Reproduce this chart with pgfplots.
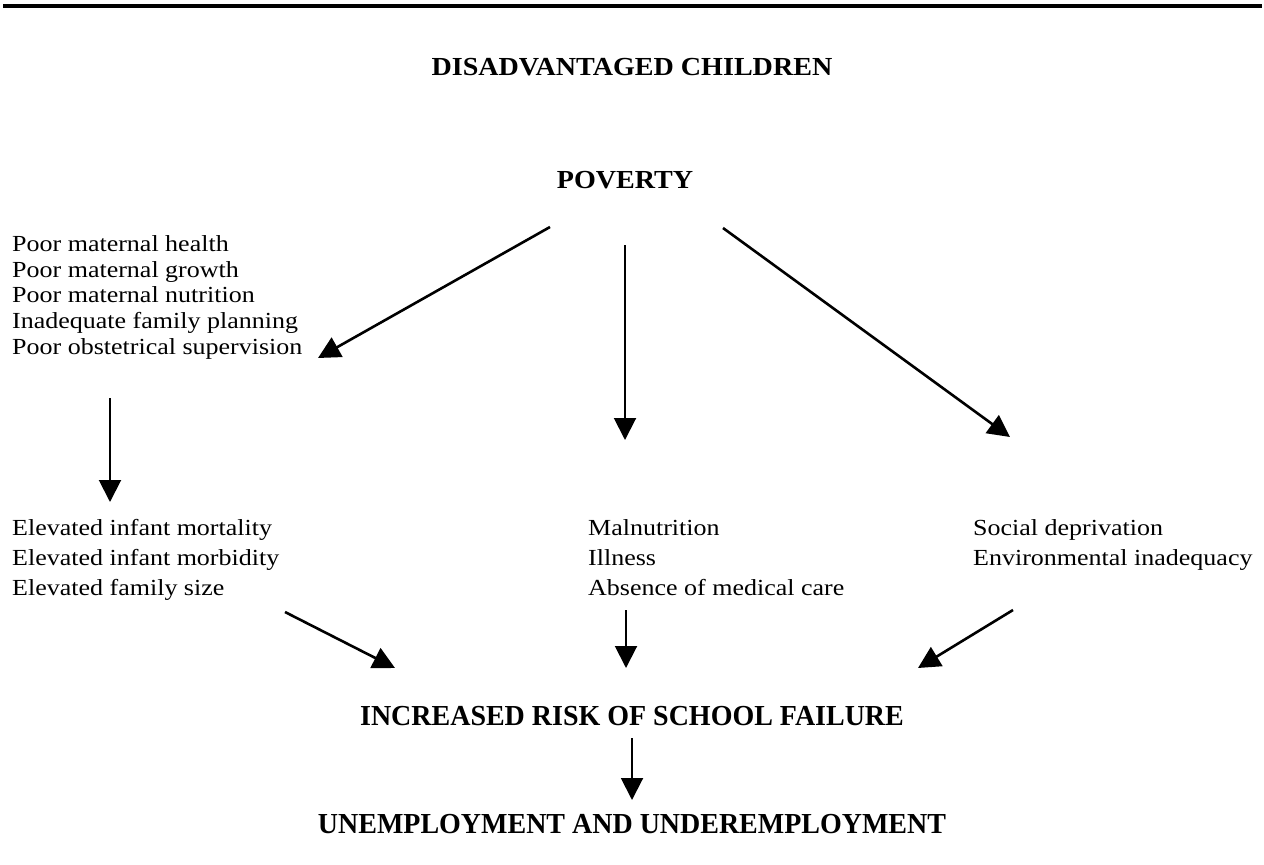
\documentclass[border=0pt]{standalone}
\usepackage{pgfplots}
\pgfplotsset{compat=1.18}
\usepackage{fontspec}
\setmainfont{Liberation Serif}
\usetikzlibrary{arrows.meta}
\newcommand{\bodyf}{\fontsize{23bp}{26bp}\selectfont}
\newcommand{\headf}{\fontsize{26bp}{30bp}\selectfont\bfseries}
\newcommand{\headb}{\fontsize{29bp}{32bp}\selectfont\bfseries}
\newcommand{\bt}[1]{\scalebox{1.13}[1]{\bodyf #1}}
\newcommand{\hdt}[1]{\scalebox{1.08}[1]{\headf #1}}
\newcommand{\hdb}[1]{\scalebox{0.965}[1]{\headb #1}}
\begin{document}
\begin{tikzpicture}
\begin{axis}[
  width=1264bp, height=865bp, scale only axis,
  xmin=0, xmax=1264, ymin=0, ymax=865, y dir=reverse,
  hide axis, clip=false,
  arr/.style={black, line width=2.6bp, -{Triangle[length=22bp, width=22bp]}},
  varr/.style={black, line width=2bp, -{Triangle[length=22bp, width=22bp]}},
]
% invisible frame so the picture spans the whole canvas
\addplot[draw=none, forget plot] coordinates {(0,0) (1264,865)};
% top rule
\addplot[black, line width=3.5bp] coordinates {(3,6) (1262,6)};
% arrows from POVERTY
\addplot[arr] coordinates {(550,227) (318,358)};
\addplot[varr] coordinates {(625,245) (625,440)};
\addplot[arr] coordinates {(723,228) (1010,437)};
% left down arrow
\addplot[varr] coordinates {(110,398) (110,502)};
% arrows into school failure
\addplot[arr] coordinates {(285,612) (395,668)};
\addplot[varr] coordinates {(626,610) (626,668)};
\addplot[arr] coordinates {(1013,610) (918,668)};
% to unemployment
\addplot[varr] coordinates {(632,738) (632,800)};

% headings
\node[anchor=base] at (axis cs:632,76) {\hdt{DISADVANTAGED CHILDREN}};
\node[anchor=base] at (axis cs:625,189) {\hdt{POVERTY}};
\node[anchor=base] at (axis cs:632,725) {\hdb{INCREASED RISK OF SCHOOL FAILURE}};
\node[anchor=base] at (axis cs:632,833) {\hdb{UNEMPLOYMENT AND UNDEREMPLOYMENT}};

% left block
\node[anchor=base west, inner sep=0] at (axis cs:12,251) {\bt{Poor maternal health}};
\node[anchor=base west, inner sep=0] at (axis cs:12,277) {\bt{Poor maternal growth}};
\node[anchor=base west, inner sep=0] at (axis cs:12,302) {\bt{Poor maternal nutrition}};
\node[anchor=base west, inner sep=0] at (axis cs:12,328) {\bt{Inadequate family planning}};
\node[anchor=base west, inner sep=0] at (axis cs:12,354) {\bt{Poor obstetrical supervision}};

\node[anchor=base west, inner sep=0] at (axis cs:12,535) {\bt{Elevated infant mortality}};
\node[anchor=base west, inner sep=0] at (axis cs:12,565) {\bt{Elevated infant morbidity}};
\node[anchor=base west, inner sep=0] at (axis cs:12,595) {\bt{Elevated family size}};

\node[anchor=base west, inner sep=0] at (axis cs:588,535) {\bt{Malnutrition}};
\node[anchor=base west, inner sep=0] at (axis cs:588,565) {\bt{Illness}};
\node[anchor=base west, inner sep=0] at (axis cs:588,595) {\bt{Absence of medical care}};

\node[anchor=base west, inner sep=0] at (axis cs:973,535) {\bt{Social deprivation}};
\node[anchor=base west, inner sep=0] at (axis cs:973,565) {\bt{Environmental inadequacy}};
\end{axis}
\path (current axis.south west) rectangle (current axis.north east);
\end{tikzpicture}
\end{document}
